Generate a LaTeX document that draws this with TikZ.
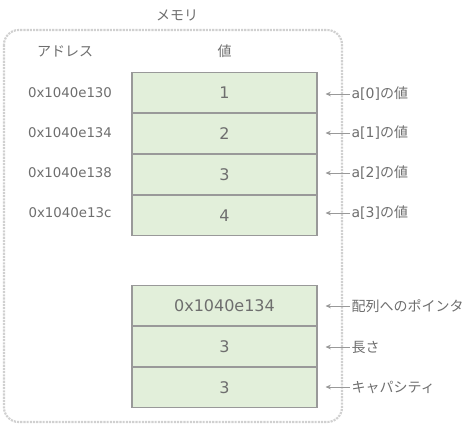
\documentclass[tikz,border=0pt]{standalone}
\usepackage{fontspec}
\setmainfont{DejaVu Sans}
\newfontfamily\jpfont{Noto Sans CJK JP}
\usetikzlibrary{arrows.meta,positioning}
\definecolor{cellgreen}{HTML}{E2EFDA}
\definecolor{cellline}{HTML}{999999}
\definecolor{textgrey}{HTML}{6E6E6E}
\definecolor{memgrey}{HTML}{D0D0D0}
\tikzset{
  cell/.style={draw=cellline,fill=cellgreen,line width=0.8pt,
    minimum width=138.75pt,minimum height=30pt,inner sep=0pt,
    font=\fontsize{12}{14}\selectfont,text=textgrey},
  addr/.style={font=\fontsize{10}{12}\selectfont,text=textgrey},
  head/.style={font=\fontsize{10.5}{12}\jpfont,text=textgrey},
  note/.style={anchor=west,inner sep=1pt,font=\fontsize{10.5}{12}\selectfont,text=textgrey},
  pointer/.style={-{Stealth[length=4pt,width=3.5pt]},cellline,line width=0.7pt},
}

\begin{document}
\begin{tikzpicture}[x=0.75pt,y=-0.75pt]
  \useasboundingbox (0,0) rectangle (472,430);
  % Memory frame
  \draw[memgrey,line width=1.6pt,dash pattern=on 1.6pt off 0.8pt,rounded corners=11pt]
    (4,30) rectangle (342,422);
  \node[head] (mem) at (177,15) {メモリ};
  \node[head] (addrhead) at (65,51) {アドレス};
  \node[head] (valhead) at (224.5,51) {値};
  % Array cells
  \node[cell] (c0) at (224.5,92.5) {1};
  \node[cell,below=0pt of c0] (c1) {2};
  \node[cell,below=0pt of c1] (c2) {3};
  \node[cell,below=0pt of c2] (c3) {4};
  \node[addr] (a0) at (70,92.5) {0x1040e130};
  \node[addr] (a1) at (70,132.5) {0x1040e134};
  \node[addr] (a2) at (70,172.5) {0x1040e138};
  \node[addr] (a3) at (70,212.5) {0x1040e13c};
  % Slice header
  \node[cell] (s0) at (224.5,305.5) {0x1040e134};
  \node[cell,below=0pt of s0] (s1) {3};
  \node[cell,below=0pt of s1] (s2) {3};
  % Labels
  \node[note] (n0) at (350,94) {a[0]{\jpfont の値}};
  \node[note] (n1) at (350,133) {a[1]{\jpfont の値}};
  \node[note] (n2) at (350,173) {a[2]{\jpfont の値}};
  \node[note] (n3) at (350,213) {a[3]{\jpfont の値}};
  \node[note] (m0) at (350,306) {\jpfont 配列へのポインタ};
  \node[note] (m1) at (350,347) {\jpfont 長さ};
  \node[note] (m2) at (350,387) {\jpfont キャパシティ};
  % Arrows
  \foreach \n/\c in {n0/c0,n1/c1,n2/c2,n3/c3,m0/s0,m1/s1,m2/s2} {
    \coordinate (\c tip) at ([xshift=6pt]\c.east);
    \draw[pointer] (\n.west) -- (\n.west -| \c tip);
  }
\end{tikzpicture}
\end{document}
